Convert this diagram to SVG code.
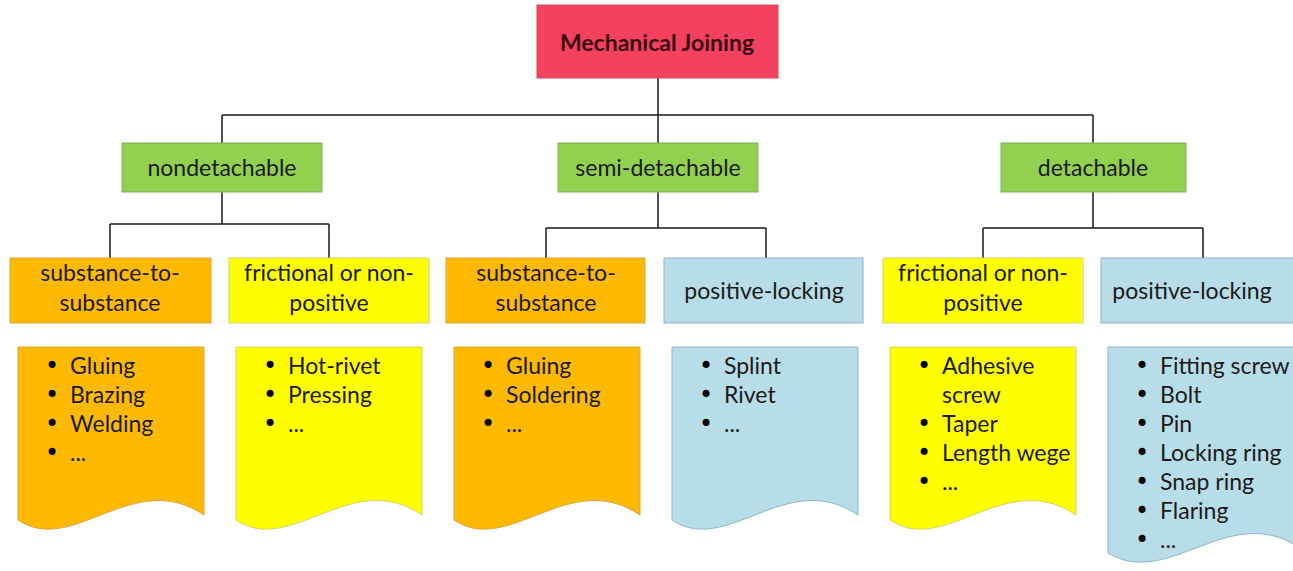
<svg xmlns="http://www.w3.org/2000/svg" width="1293" height="571" viewBox="0 0 1293 571">
<style>
.t{font-family:"Lato","Open Sans",sans-serif;font-size:23px;fill:#1a1a1a;text-anchor:middle}
.b{font-family:"Lato","Open Sans",sans-serif;font-size:23px;fill:#1a1a1a}
.d{font-family:"DejaVu Sans",sans-serif;font-size:24px;fill:#000}
.red{fill:#F3415F;stroke:#D9465B;stroke-width:1}
.grn{fill:#92D050;stroke:#7FB05A;stroke-width:1}
.org{fill:#FFB900;stroke:#D9A640;stroke-width:1}
.yel{fill:#FFFF00;stroke:#D4D06A;stroke-width:1}
.blu{fill:#B7DDE8;stroke:#8FB5C4;stroke-width:1}
.c{fill:none;stroke:#1a1a1a;stroke-width:1.5}
</style>
<g id="connectors">
<path class="c" d="M658 78V115M222 115H1093M222 115V143M658 115V143M1093 115V143"/>
<path class="c" d="M222 192V224M110 224H329M110 224V258M329 224V258"/>
<path class="c" d="M658 192V228M546 228H766M546 228V258M766 228V258"/>
<path class="c" d="M1093 192V228M983 228H1203M983 228V258M1203 228V258"/>
</g>
<g id="root"><rect class="red" x="537" y="5" width="241" height="73"/><text class="t" x="657" y="51" font-weight="bold" style="fill:#3a0a10">Mechanical Joining</text></g>
<g id="nondetachable"><rect class="grn" x="122" y="143" width="200" height="49"/><text class="t" x="222" y="176">nondetachable</text></g>
<g id="semi-detachable"><rect class="grn" x="558" y="143" width="200" height="49"/><text class="t" x="658" y="176">semi-detachable</text></g>
<g id="detachable"><rect class="grn" x="1001" y="143" width="185" height="49"/><text class="t" x="1093" y="176">detachable</text></g>
<g id="sub1"><rect class="org" x="10" y="258" width="201" height="65"/><text class="t" x="110" y="281">substance-to-</text><text class="t" x="110" y="311">substance</text></g>
<g id="fric1"><rect class="yel" x="229" y="258" width="200" height="65"/><text class="t" x="329" y="281">frictional or non-</text><text class="t" x="329" y="311">positive</text></g>
<g id="sub2"><rect class="org" x="446" y="258" width="199" height="65"/><text class="t" x="546" y="281">substance-to-</text><text class="t" x="546" y="311">substance</text></g>
<g id="pos1"><rect class="blu" x="664" y="258" width="199" height="65"/><text class="t" x="764" y="299">positive-locking</text></g>
<g id="fric2"><rect class="yel" x="883" y="258" width="200" height="65"/><text class="t" x="983" y="281">frictional or non-</text><text class="t" x="983" y="311">positive</text></g>
<g id="pos2"><rect class="blu" x="1101" y="258" width="200" height="65"/><text class="t" x="1192" y="299">positive-locking</text></g>
<g id="list1"><path class="org" d="M18 347H204V515C133 467 73 557 18 520Z"/>
<text class="d" x="45" y="374">•</text><text class="b" x="70" y="374">Gluing</text>
<text class="d" x="45" y="403">•</text><text class="b" x="70" y="403">Brazing</text>
<text class="d" x="45" y="432">•</text><text class="b" x="70" y="432">Welding</text>
<text class="d" x="45" y="461">•</text><text class="b" x="70" y="461">...</text></g>
<g id="list2"><path class="yel" d="M236 347H422V515C351 467 291 557 236 520Z"/>
<text class="d" x="263" y="374">•</text><text class="b" x="288" y="374">Hot-rivet</text>
<text class="d" x="263" y="403">•</text><text class="b" x="288" y="403">Pressing</text>
<text class="d" x="263" y="432">•</text><text class="b" x="288" y="432">...</text></g>
<g id="list3"><path class="org" d="M454 347H640V515C569 467 509 557 454 520Z"/>
<text class="d" x="481" y="374">•</text><text class="b" x="506" y="374">Gluing</text>
<text class="d" x="481" y="403">•</text><text class="b" x="506" y="403">Soldering</text>
<text class="d" x="481" y="432">•</text><text class="b" x="506" y="432">...</text></g>
<g id="list4"><path class="blu" d="M672 347H858V515C787 467 727 557 672 520Z"/>
<text class="d" x="699" y="374">•</text><text class="b" x="724" y="374">Splint</text>
<text class="d" x="699" y="403">•</text><text class="b" x="724" y="403">Rivet</text>
<text class="d" x="699" y="432">•</text><text class="b" x="724" y="432">...</text></g>
<g id="list5"><path class="yel" d="M890 347H1076V515C1005 467 945 557 890 520Z"/>
<text class="d" x="917" y="374">•</text><text class="b" x="942" y="374">Adhesive</text>
<text class="b" x="942" y="403">screw</text>
<text class="d" x="917" y="432">•</text><text class="b" x="942" y="432">Taper</text>
<text class="d" x="917" y="461">•</text><text class="b" x="942" y="461">Length wege</text>
<text class="d" x="917" y="490">•</text><text class="b" x="942" y="490">...</text></g>
<g id="list6"><path class="blu" d="M1108 347H1300V548C1229 500 1169 590 1108 553Z"/>
<text class="d" x="1135" y="374">•</text><text class="b" x="1160" y="374">Fitting screw</text>
<text class="d" x="1135" y="403">•</text><text class="b" x="1160" y="403">Bolt</text>
<text class="d" x="1135" y="432">•</text><text class="b" x="1160" y="432">Pin</text>
<text class="d" x="1135" y="461">•</text><text class="b" x="1160" y="461">Locking ring</text>
<text class="d" x="1135" y="490">•</text><text class="b" x="1160" y="490">Snap ring</text>
<text class="d" x="1135" y="519">•</text><text class="b" x="1160" y="519">Flaring</text>
<text class="d" x="1135" y="548">•</text><text class="b" x="1160" y="548">...</text></g>
</svg>
